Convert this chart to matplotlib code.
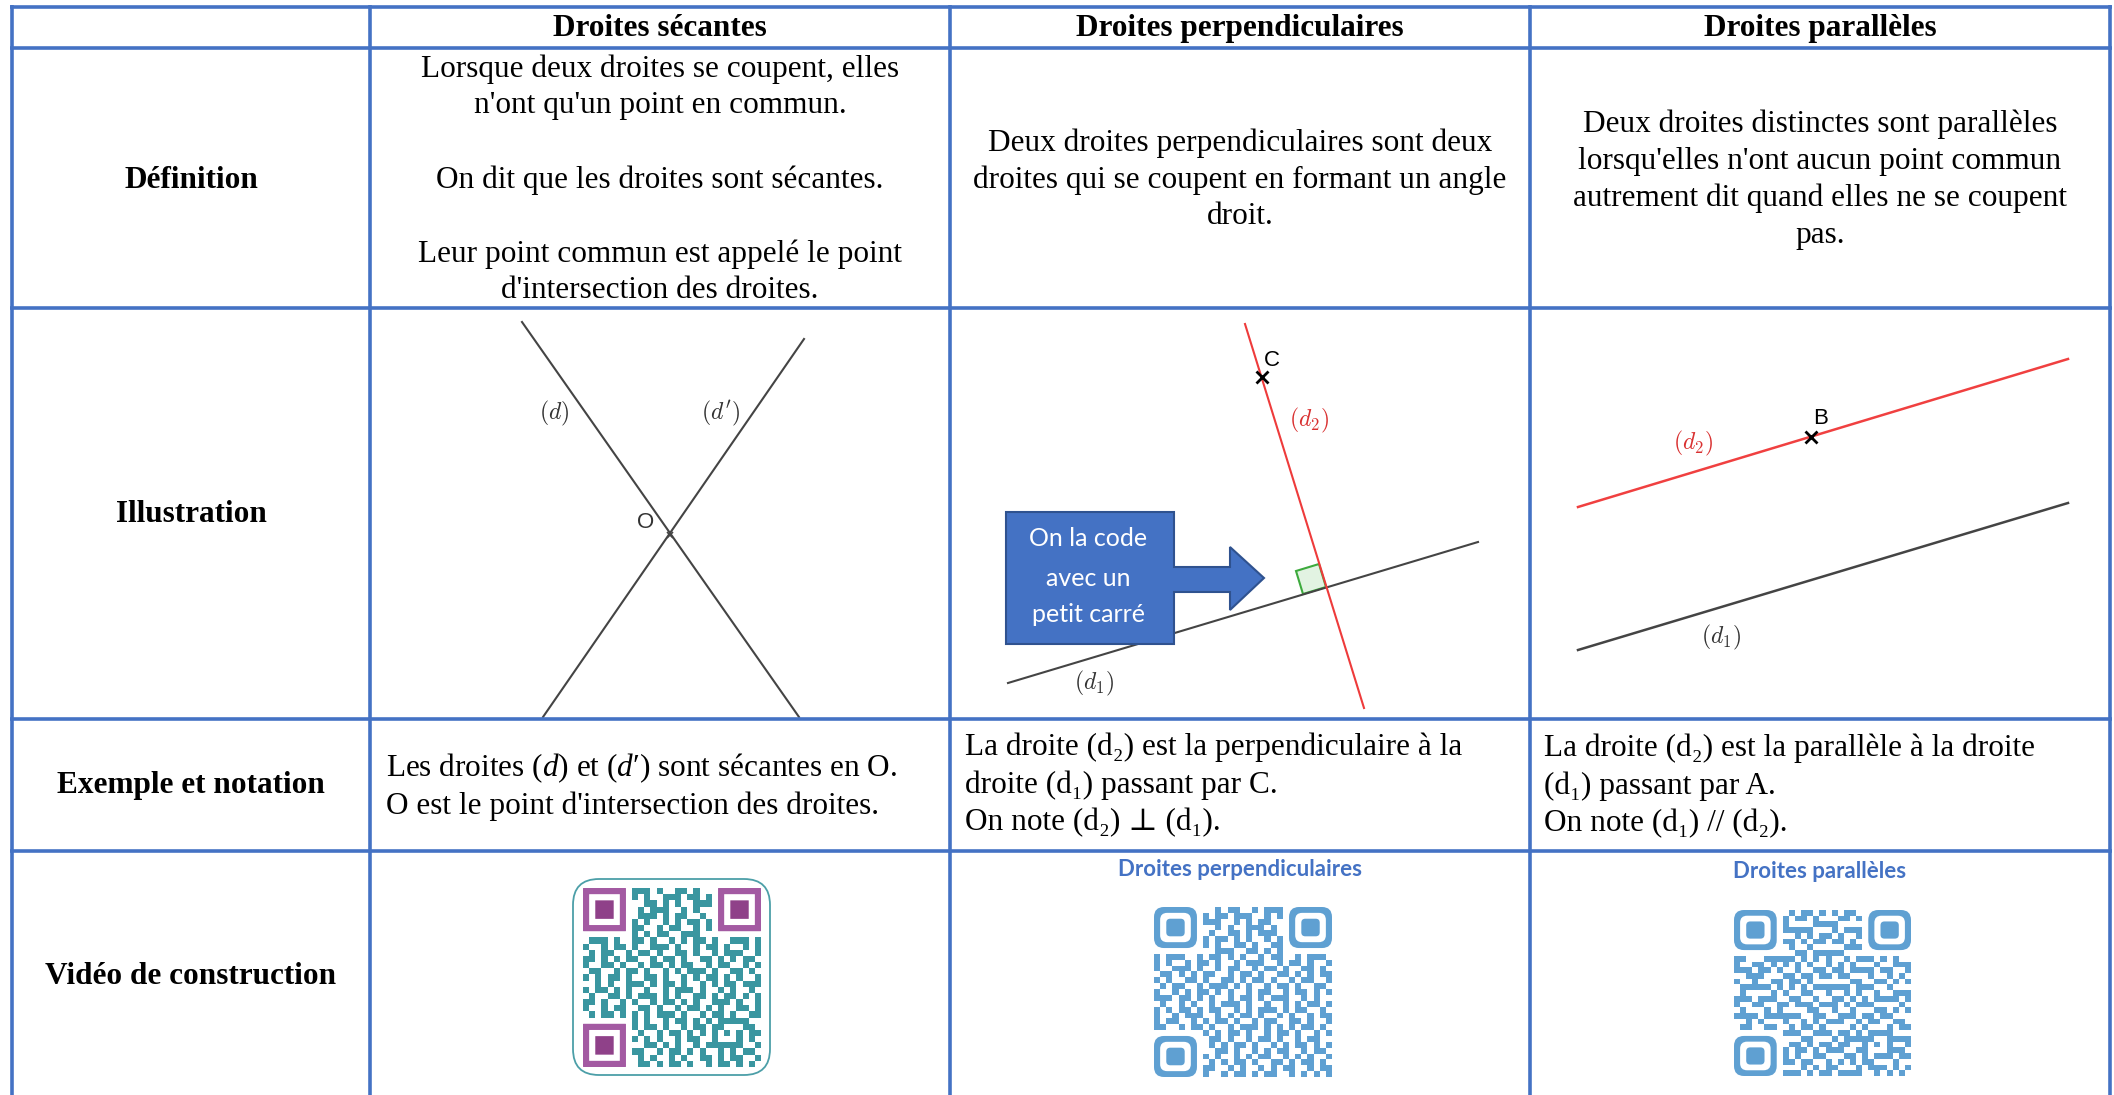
import matplotlib
matplotlib.use("Agg")
import matplotlib.pyplot as plt
import matplotlib.colors as mcolors
import numpy as np
from matplotlib.patches import Polygon, FancyBboxPatch

plt.rcParams['mathtext.fontset'] = 'custom'
plt.rcParams['mathtext.rm'] = 'Liberation Serif'
plt.rcParams['mathtext.it'] = 'Liberation Serif:italic'

SERIF = ['Liberation Serif', 'DejaVu Serif']
SANS = ['Liberation Sans', 'DejaVu Sans']
CALIBRI = ['Lato', 'DejaVu Sans']
BLUE = '#4472C4'

# --- table frame (pixel coordinates, y down) ---
col_edges = [12, 370, 950, 1530, 2110]
row_edges = [7, 48, 308, 719, 851]

col_headers = ["Droites sécantes", "Droites perpendiculaires", "Droites parallèles"]
row_labels = ["Définition", "Illustration", "Exemple et notation", "Vidéo de construction"]
row_label_y = [180, 515, 786, 977]

definitions = [
    ["Lorsque deux droites se coupent, elles", "n'ont qu'un point en commun.", "",
     "On dit que les droites sont sécantes.", "",
     "Leur point commun est appelé le point", "d'intersection des droites."],
    ["Deux droites perpendiculaires sont deux", "droites qui se coupent en formant un angle",
     "droit."],
    ["Deux droites distinctes sont parallèles", "lorsqu'elles n'ont aucun point commun",
     "autrement dit quand elles ne se coupent", "pas."],
]
definition_y = 180

examples = [
    ["Les droites ($d$) et ($d$′) sont sécantes en O.", "O est le point d'intersection des droites."],
    ["La droite (d₂) est la perpendiculaire à la", "droite (d₁) passant par C.", "On note (d₂) ⊥ (d₁)."],
    ["La droite (d₂) est la parallèle à la droite", "(d₁) passant par A.", "On note (d₁) // (d₂)."],
]
example_x = [386, 965, 1544]
example_top = [768, 747, 748]

# --- illustrations ---
sec_d_x, sec_d_y = [522, 799], [322, 717]
sec_dp_x, sec_dp_y = [804, 543], [339, 717]
pt_O = (670, 535)

perp_d1_x, perp_d1_y = [1008, 1478], [683, 542]
perp_d2_x, perp_d2_y = [1245, 1364], [324, 708]
pt_C = (1262, 377)
square_x = [1326, 1303, 1296, 1319]
square_y = [587, 594, 571, 564]

par_d2_x, par_d2_y = [1578, 2068], [507, 359]
par_d1_x, par_d1_y = [1578, 2068], [650, 503]
pt_B = (1811, 437)

line_labels = [
    (r'$(d)$', 554, 413, '#333333'),
    (r"$(d')$", 721, 413, '#333333'),
    (r'$(d_2)$', 1309, 420, '#D93030'),
    (r'$(d_1)$', 1094, 683, '#333333'),
    (r'$(d_2)$', 1693, 443, '#D93030'),
    (r'$(d_1)$', 1721, 637, '#333333'),
]
point_labels = [("O", 646, 523, '#333333'), ("C", 1272, 360, 'black'), ("B", 1821, 418, 'black')]

callout_x = [1006, 1174, 1174, 1230, 1230, 1264, 1230, 1230, 1174, 1174, 1006]
callout_y = [512, 512, 567, 567, 547, 578, 610, 592, 592, 644, 644]
callout_lines = ["On la code", "avec un", "petit carré"]
callout_line_y = [539, 578, 614]

# --- QR codes (hand copied look-alike pattern) ---
QR_ROWS = [
    "#.##..#.###.#..##.#..#.##.#.#",
    ".##.#..##.#..###.##.#..#.##..",
    "#..###.#..##.#.#..###.#.#..##",
    ".#.#..##.#.###..#.#..##..#.#.",
    "##..#.#..###.#.##..#.#.###..#",
    "#.#.##..#.#..#.#.##.#..#.#.##",
    "..##.#.###..#.##..#.##.#..#.#",
    "#.#..##.#.#.##..###..#.##.#..",
    ".###.#..##.#..#.#.##.#..###.#",
    "#..#.##.#..###.#..#.##.#..#.#",
    ".#.##..#.##.#..##.#..#.###..#",
    "##.#.#.##..#.##.#..##.#.#.##.",
    "#..##.#..#.##.#.##..#.##..#.#",
    ".##..#.##.#..#.#.###.#..##.#.",
    "#.#.##.#..##.#..#.#.##.#.#..#",
    "..#.#..###.#.##.#..#.#.##.###",
    "#.##.#.#..#..#.###.#..#.#..#.",
    ".#..##.#.###.#.#..##.#.##.#.#",
    "##.#..#.#..#.##.#.#..###.#..#",
    "#..#.##..##.#..#.##.#.#..##.#",
    ".#.##.#.#.#.###.#..#.##.#..##",
    "#.#..#.##.#..#.##.#.#.#####..",
    "..##.#..#.##.#..#.##.##...##.",
    "#.#.##.#.#..#.##.#.#.#.#.#.##",
    ".##.#..##.#.#..#.##..#...#.#.",
    "#..#.#.#..##.#.#..#.######..#",
    ".#.##.#.##..#.##.#.#..#.#.##.",
    "##.#..##.#.#..#.#..##.#.##..#",
    "#.#.#.#..##.#.##.#..#.##.#.#.",
]
qr_titles = [None, "Droites perpendiculaires", "Droites parallèles"]
qr_title_pos = [None, (1240, 869), (1820, 872)]


def qr_matrix(rows, flip=False, transpose=False):
    n = len(rows)
    m = np.array([[c == '#' for c in (r + '.' * n)[:n]] for r in rows], dtype=bool)
    if flip:
        m = m[:, ::-1]
    if transpose:
        m = m.T
    # finder zones are drawn separately
    m[:8, :8] = False
    m[:8, -8:] = False
    m[-8:, :8] = False
    return m


def draw_qr(ax, m, x0, y0, x1, y1, color, outer, inner, rs):
    n = m.shape[0]
    rgba = np.zeros((n, n, 4))
    rgba[m] = mcolors.to_rgba(color)
    ax.imshow(rgba, extent=(x0, x1, y1, y0), interpolation='nearest',
              aspect='auto', zorder=3)
    cw = (x1 - x0) / n
    ch = (y1 - y0) / n
    for r, c in [(0, 0), (0, n - 7), (n - 7, 0)]:
        fx, fy = x0 + c * cw, y0 + r * ch
        for k, col in [(0, outer), (1, 'white'), (2, inner)]:
            ax.add_patch(FancyBboxPatch(
                (fx + k * cw, fy + k * ch), (7 - 2 * k) * cw, (7 - 2 * k) * ch,
                boxstyle=f"round,pad=0,rounding_size={rs * (1 - 0.3 * k)}",
                fc=col, ec='none', zorder=4))


fig = plt.figure(figsize=(21.14, 10.95), dpi=100)
ax = fig.add_axes([0, 0, 1, 1])

# grid
for y in row_edges:
    ax.plot([col_edges[0] - 2, col_edges[-1] + 2], [y, y], color=BLUE, lw=2.6,
            solid_capstyle='butt', zorder=5)
for x in col_edges:
    ax.plot([x, x], [row_edges[0] - 2, 1100], color=BLUE, lw=2.6,
            solid_capstyle='butt', zorder=5)

col_centers = [(col_edges[i] + col_edges[i + 1]) / 2 for i in range(len(col_edges) - 1)]
header_y = (row_edges[0] + row_edges[1]) / 2 + 1

for i, h in enumerate(col_headers):
    ax.text(col_centers[i + 1], header_y, h, ha='center', va='center',
            family=SERIF, fontweight='bold', fontsize=22.5)
for lab, y in zip(row_labels, row_label_y):
    ax.text(col_centers[0], y, lab, ha='center', va='center',
            family=SERIF, fontweight='bold', fontsize=22.5)

gap = 37
for i, lines in enumerate(definitions):
    top = definition_y - gap * (len(lines) - 1) / 2
    for j, line in enumerate(lines):
        if line:
            ax.text(col_centers[i + 1], top + j * gap, line, ha='center', va='center',
                    family=SERIF, fontsize=22.5)

for i, lines in enumerate(examples):
    for j, line in enumerate(lines):
        ax.text(example_x[i], example_top[i] + j * 38, line, ha='left', va='center',
                family=SERIF, fontsize=22.5)

# secantes
ax.plot(sec_d_x, sec_d_y, color='#444444', lw=1.5, zorder=2)
ax.plot(sec_dp_x, sec_dp_y, color='#444444', lw=1.5, zorder=2)
ax.plot(*pt_O, marker='x', ms=5, mew=1.2, color='#444444')

# perpendiculaires
ax.fill(square_x, square_y, fc='#E2F3E2', ec='#3DAA3D', lw=1.5, zorder=2)
ax.plot(perp_d1_x, perp_d1_y, color='#444444', lw=1.5, zorder=2)
ax.plot(perp_d2_x, perp_d2_y, color='#EE3B3B', lw=1.5, zorder=2)
ax.plot(*pt_C, marker='x', ms=9, mew=2, color='black', zorder=3)

# paralleles
ax.plot(par_d2_x, par_d2_y, color='#F04040', lw=1.8, zorder=2)
ax.plot(par_d1_x, par_d1_y, color='#444444', lw=1.8, zorder=2)
ax.plot(*pt_B, marker='x', ms=9, mew=2, color='black', zorder=3)

for txt, x, y, c in line_labels:
    ax.text(x, y, txt, ha='center', va='center', fontsize=17, color=c, math_fontfamily='cm')
for txt, x, y, c in point_labels:
    ax.text(x, y, txt, ha='center', va='center', fontsize=16, color=c, family=SANS)

ax.add_patch(Polygon(np.column_stack([callout_x, callout_y]), closed=True,
                     fc=BLUE, ec='#2F528F', lw=1.5, zorder=6))
for line, y in zip(callout_lines, callout_line_y):
    ax.text(1088, y, line, ha='center', va='center', color='white',
            family=CALIBRI, fontsize=18, zorder=7)

# QR codes
ax.add_patch(FancyBboxPatch((573, 879), 197, 196, boxstyle="round,pad=0,rounding_size=26",
                            fc='white', ec='#4C9FA8', lw=1.3, zorder=2))
draw_qr(ax, qr_matrix(QR_ROWS), 583, 888, 761, 1067, '#3A96A0', '#A35AA2', '#8F4189', 0.5)
draw_qr(ax, qr_matrix(QR_ROWS, flip=True), 1154, 907, 1332, 1077, '#5FA0D2', '#5FA0D2', '#5FA0D2', 10)
draw_qr(ax, qr_matrix(QR_ROWS, transpose=True), 1734, 910, 1911, 1076, '#5FA0D2', '#5FA0D2', '#5FA0D2', 10)

for title, pos in zip(qr_titles, qr_title_pos):
    if title:
        ax.text(pos[0], pos[1], title, ha='center', va='center', color=BLUE,
                family=CALIBRI, fontweight='bold', fontsize=16)

ax.set_xlim(0, 2114)
ax.set_ylim(1095, 0)
ax.axis('off')
fig.savefig('out.png', dpi=100)
